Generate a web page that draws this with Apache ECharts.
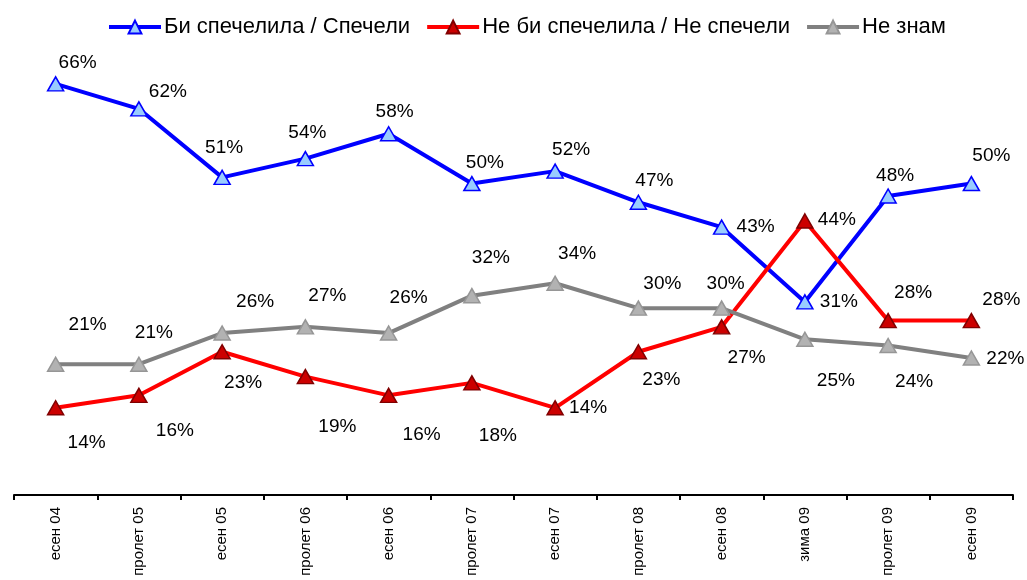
<!DOCTYPE html>
<html>
<head>
<meta charset="utf-8">
<script src="https://cdn.jsdelivr.net/npm/echarts@6/dist/echarts.min.js"></script>
<style>
  html, body { margin: 0; padding: 0; background: #fff; }
  #chart { width: 1027px; height: 580px; }
</style>
</head>
<body>
<div id="chart"></div>
<script>
// Survey waves
const categories = ['есен 04', 'пролет 05', 'есен 05', 'пролет 06', 'есен 06', 'пролет 07',
                    'есен 07', 'пролет 08', 'есен 08', 'зима 09', 'пролет 09', 'есен 09'];

const seriesNames = ['Би спечелила / Спечели', 'Не би спечелила / Не спечели', 'Не знам'];

// Shares in percent
const wouldWin    = [66, 62, 51, 54, 58, 50, 52, 47, 43, 31, 48, 50];
const wouldNotWin = [14, 16, 23, 19, 16, 18, 14, 23, 27, 44, 28, 28];
const dontKnow    = [21, 21, 26, 27, 26, 32, 34, 30, 30, 25, 24, 22];

// Label placement relative to each point (px)
const wouldWinLabelShift = [[22,-21],[29,-17],[2,-30],[2,-26],[6,-22],[13,-21],[16,-21],[16,-21],[34,0],[34,0],[7,-20],[20,-28]];
const wouldNotWinLabelShift = [[31,35],[36,35],[21,31],[32,50],[33,39],[26,53],[33,0],[23,28],[25,31],[32,-1],[25,-28],[30,-21]];
const dontKnowLabelShift = [[32,-39],[15,-31],[33,-31],[22,-31],[20,-35],[19,-38],[22,-29],[24,-24],[4,-24],[31,41],[26,36],[34,1]];

const FONT = 'Liberation Sans, Arial, sans-serif';

function withLabels(values, shifts) {
  return values.map((v, i) => ({ value: v, label: { offset: shifts[i] } }));
}

function lineSeries(name, values, shifts, lineColor, fill, border) {
  return {
    name: name,
    type: 'line',
    data: withLabels(values, shifts),
    symbol: 'triangle',
    symbolSize: [16, 14],
    showAllSymbol: true,
    lineStyle: { color: lineColor, width: 4 },
    itemStyle: { color: fill, borderColor: border, borderWidth: 1.5 },
    label: {
      show: true,
      position: 'inside',
      formatter: '{c}%',
      color: '#000',
      fontSize: 19,
      fontFamily: FONT
    },
    emphasis: { disabled: true },
    animation: false
  };
}

const chart = echarts.init(document.getElementById('chart'), null, { renderer: 'canvas' });
chart.setOption({
  backgroundColor: '#ffffff',
  animation: false,
  legend: {
    top: 11,
    left: 102,
    itemWidth: 52,
    itemHeight: 16,
    itemGap: 15,
    lineStyle: { width: 4 },
    textStyle: { fontSize: 22, color: '#000', fontFamily: FONT, padding: [0, 0, 0, -2] },
    data: seriesNames
  },
  grid: { left: 14, right: 14, top: 59, bottom: 85, containLabel: false },
  xAxis: {
    type: 'category',
    data: categories,
    boundaryGap: true,
    axisLine: { lineStyle: { color: '#000', width: 2 } },
    axisTick: { show: true, length: 5, lineStyle: { color: '#000', width: 2 } },
    axisLabel: {
      interval: 0,
      rotate: 90,
      margin: 12,
      fontSize: 15,
      color: '#000',
      fontFamily: FONT
    }
  },
  yAxis: {
    type: 'value',
    min: 0,
    max: 70,
    show: false,
    splitLine: { show: false }
  },
  series: [
    lineSeries(seriesNames[0], wouldWin, wouldWinLabelShift, '#0000FF', '#99CCFF', '#0000FF'),
    lineSeries(seriesNames[1], wouldNotWin, wouldNotWinLabelShift, '#FF0000', '#CC0000', '#800000'),
    lineSeries(seriesNames[2], dontKnow, dontKnowLabelShift, '#808080', '#B2B2B2', '#969696')
  ]
});
</script>
</body>
</html>
